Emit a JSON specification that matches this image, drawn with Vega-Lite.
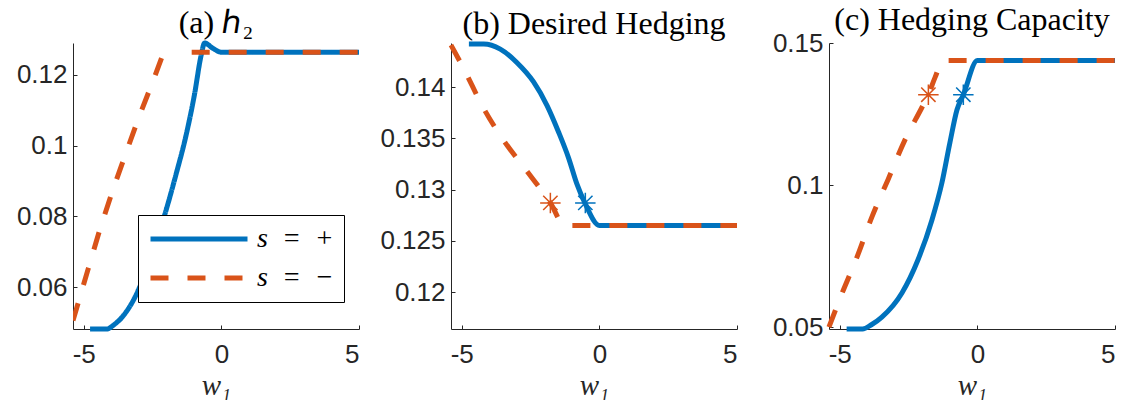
{
  "$schema": "https://vega.github.io/schema/vega-lite/v6.json",
  "background": "white",
  "padding": {"left": 16, "top": 4, "right": 5, "bottom": 0},
  "bounds": "flush",
  "spacing": 92,
  "config": {
    "view": {"stroke": null},
    "axis": {
      "grid": false,
      "domainColor": "#262626",
      "domainWidth": 1,
      "tickColor": "#262626",
      "tickSize": -4,
      "labelColor": "#262626",
      "labelFont": "Liberation Sans",
      "labelFontSize": 26,
      "titleFont": "Liberation Serif",
      "titleFontStyle": "italic",
      "titleFontWeight": "normal",
      "titleFontSize": 29,
      "titleColor": "#262626"
    },
    "axisX": {"labelPadding": 16, "titlePadding": 4},
    "axisY": {"labelPadding": 10},
    "title": {"font": "Liberation Serif", "fontSize": 32, "fontWeight": "normal", "color": "#000000", "offset": -7}
  },
  "datasets": {
    "a": [
      {"s": "s\u2002=\u2002+", "x": -4.77, "y": 0.0482},
      {"s": "s\u2002=\u2002+", "x": -4.16, "y": 0.0482},
      {"s": "s\u2002=\u2002+", "x": -3.9, "y": 0.0494},
      {"s": "s\u2002=\u2002+", "x": -3.59, "y": 0.0517},
      {"s": "s\u2002=\u2002+", "x": -3.1, "y": 0.0578},
      {"s": "s\u2002=\u2002+", "x": -2.62, "y": 0.0672},
      {"s": "s\u2002=\u2002+", "x": -2.13, "y": 0.0786},
      {"s": "s\u2002=\u2002+", "x": -1.65, "y": 0.0918},
      {"s": "s\u2002=\u2002+", "x": -1.28, "y": 0.103},
      {"s": "s\u2002=\u2002+", "x": -0.98, "y": 0.1143},
      {"s": "s\u2002=\u2002+", "x": -0.73, "y": 0.1257},
      {"s": "s\u2002=\u2002+", "x": -0.61, "y": 0.129},
      {"s": "s\u2002=\u2002+", "x": -0.31, "y": 0.1275},
      {"s": "s\u2002=\u2002+", "x": 0, "y": 0.1264},
      {"s": "s\u2002=\u2002+", "x": 5, "y": 0.1264},
      {"s": "s\u2002=\u2002\u2212", "x": -5.39, "y": 0.0506},
      {"s": "s\u2002=\u2002\u2212", "x": -4.83, "y": 0.0654},
      {"s": "s\u2002=\u2002\u2212", "x": -4.4, "y": 0.0767},
      {"s": "s\u2002=\u2002\u2212", "x": -3.92, "y": 0.088},
      {"s": "s\u2002=\u2002\u2212", "x": -3.49, "y": 0.0974},
      {"s": "s\u2002=\u2002\u2212", "x": -3.0, "y": 0.108},
      {"s": "s\u2002=\u2002\u2212", "x": -2.52, "y": 0.1175},
      {"s": "s\u2002=\u2002\u2212", "x": -2.16, "y": 0.125},
      {"s": "s\u2002=\u2002\u2212", "x": -1.86, "y": 0.1297},
      {"s": "s\u2002=\u2002\u2212", "x": -1.55, "y": 0.134},
      {"s": "s\u2002=\u2002\u2212", "x": -1.29, "y": 0.137},
      {"s": "s\u2002=\u2002\u2212", "x": -1.28, "y": 0.1264},
      {"s": "s\u2002=\u2002\u2212", "x": 5, "y": 0.1264}
    ],
    "b": [
      {"s": "plus", "x": -4.74, "y": 0.1442},
      {"s": "plus", "x": -4.2, "y": 0.1442},
      {"s": "plus", "x": -3.6, "y": 0.1437},
      {"s": "plus", "x": -3.0, "y": 0.1424},
      {"s": "plus", "x": -2.39, "y": 0.1405},
      {"s": "plus", "x": -1.9, "y": 0.1382},
      {"s": "plus", "x": -1.48, "y": 0.1356},
      {"s": "plus", "x": -1.12, "y": 0.1331},
      {"s": "plus", "x": -0.81, "y": 0.1305},
      {"s": "plus", "x": -0.51, "y": 0.1286},
      {"s": "plus", "x": 0, "y": 0.1265},
      {"s": "plus", "x": 5, "y": 0.1265},
      {"s": "minus", "x": -5.39, "y": 0.1441},
      {"s": "minus", "x": -4.93, "y": 0.1418},
      {"s": "minus", "x": -4.2, "y": 0.1379},
      {"s": "minus", "x": -3.48, "y": 0.1348},
      {"s": "minus", "x": -2.63, "y": 0.1318},
      {"s": "minus", "x": -1.78, "y": 0.1287},
      {"s": "minus", "x": -1.26, "y": 0.1265},
      {"s": "minus", "x": 5, "y": 0.1265}
    ],
    "c": [
      {"s": "plus", "x": -4.75, "y": 0.0493},
      {"s": "plus", "x": -4.17, "y": 0.0493},
      {"s": "plus", "x": -3.85, "y": 0.0508},
      {"s": "plus", "x": -3.47, "y": 0.0535},
      {"s": "plus", "x": -2.74, "y": 0.062},
      {"s": "plus", "x": -2.16, "y": 0.0736},
      {"s": "plus", "x": -1.65, "y": 0.0877},
      {"s": "plus", "x": -1.29, "y": 0.1007},
      {"s": "plus", "x": -1.0, "y": 0.1148},
      {"s": "plus", "x": -0.74, "y": 0.1265},
      {"s": "plus", "x": -0.51, "y": 0.1318},
      {"s": "plus", "x": 0, "y": 0.1438},
      {"s": "plus", "x": 5, "y": 0.1438},
      {"s": "minus", "x": -5.39, "y": 0.05},
      {"s": "minus", "x": -4.97, "y": 0.0606},
      {"s": "minus", "x": -4.37, "y": 0.0747},
      {"s": "minus", "x": -3.83, "y": 0.0888},
      {"s": "minus", "x": -3.25, "y": 0.1018},
      {"s": "minus", "x": -2.63, "y": 0.1159},
      {"s": "minus", "x": -2.02, "y": 0.1272},
      {"s": "minus", "x": -1.78, "y": 0.1318},
      {"s": "minus", "x": -1.54, "y": 0.1378},
      {"s": "minus", "x": -1.25, "y": 0.1438},
      {"s": "minus", "x": 5, "y": 0.1438}
    ],
    "starsb": [
      {"s": "plus", "x": -0.51, "y": 0.1287},
      {"s": "minus", "x": -1.78, "y": 0.1287}
    ],
    "starsc": [
      {"s": "plus", "x": -0.51, "y": 0.1318},
      {"s": "minus", "x": -1.78, "y": 0.1318}
    ]
  },
  "hconcat": [
    {
      "width": 286,
      "height": 286,
      "title": {"text": "(a) ℎ₂"},
      "encoding": {
        "x": {"field": "x", "type": "quantitative", "scale": {"domain": [-5.39, 5], "nice": false, "zero": false}, "axis": {"values": [-5, 0, 5], "labelExpr": "'' + datum.value", "title": "w₁"}},
        "y": {"field": "y", "type": "quantitative", "scale": {"domain": [0.0482, 0.129], "nice": false, "zero": false}, "axis": {"values": [0.06, 0.08, 0.1, 0.12], "labelExpr": "'' + datum.value", "title": null}},
        "color": {"field": "s", "type": "nominal", "scale": {"domain": ["s\u2002=\u2002+", "s\u2002=\u2002\u2212"], "range": ["#0072BD", "#D95319"]},
          "legend": {"orient": "none", "legendX": 65, "legendY": 172, "title": null, "padding": 10, "strokeColor": "#000000", "fillColor": "#ffffff", "symbolType": "stroke", "symbolSize": 9409, "symbolStrokeWidth": 5, "clipHeight": 28, "rowPadding": 11, "labelFont": "Liberation Serif", "labelFontSize": 28, "labelFontStyle": "italic", "labelColor": "#000000", "labelOffset": 7, "cornerRadius": 0}},
        "strokeDash": {"field": "s", "type": "nominal", "scale": {"domain": ["s\u2002=\u2002+", "s\u2002=\u2002\u2212"], "range": [[1, 0], [18, 19]]},
          "legend": {"orient": "none", "legendX": 65, "legendY": 172, "title": null, "padding": 10, "strokeColor": "#000000", "fillColor": "#ffffff", "symbolType": "stroke", "symbolSize": 9409, "symbolStrokeWidth": 5, "clipHeight": 28, "rowPadding": 11, "labelFont": "Liberation Serif", "labelFontSize": 28, "labelFontStyle": "italic", "labelColor": "#000000", "labelOffset": 7, "cornerRadius": 0}}
      },
      "layer": [
        {"data": {"name": "a"}, "transform": [{"filter": "datum.s == 's\u2002=\u2002+'"}], "mark": {"type": "line", "strokeWidth": 5, "clip": false, "interpolate": "monotone"}},
        {"data": {"name": "a"}, "transform": [{"filter": "datum.s != 's\u2002=\u2002+'"}], "mark": {"type": "line", "strokeWidth": 5, "clip": true}}
      ]
    },
    {
      "width": 286,
      "height": 286,
      "title": {"text": "(b) Desired Hedging"},
      "encoding": {
        "x": {"field": "x", "type": "quantitative", "scale": {"domain": [-5.39, 5], "nice": false, "zero": false}, "axis": {"values": [-5, 0, 5], "labelExpr": "'' + datum.value", "title": "w₁"}},
        "y": {"field": "y", "type": "quantitative", "scale": {"domain": [0.1164, 0.1443], "nice": false, "zero": false}, "axis": {"values": [0.12, 0.125, 0.13, 0.135, 0.14], "labelExpr": "'' + datum.value", "title": null}}
      },
      "layer": [
        {"data": {"name": "b"}, "transform": [{"filter": "datum.s == 'plus'"}], "mark": {"type": "line", "strokeWidth": 5, "color": "#0072BD", "clip": false, "interpolate": "monotone"}},
        {"data": {"name": "b"}, "transform": [{"filter": "datum.s == 'minus'"}], "mark": {"type": "line", "strokeWidth": 5, "color": "#D95319", "strokeDash": [18, 19], "clip": false, "interpolate": "monotone"}},
        {"data": {"name": "starsb"}, "transform": [{"filter": "datum.s == 'plus'"}], "mark": {"type": "point", "shape": "M-1,0L1,0M0,-1L0,1M-0.7,-0.7L0.7,0.7M-0.7,0.7L0.7,-0.7", "filled": false, "size": 420, "strokeWidth": 1.5, "color": "#0072BD", "opacity": 1}},
        {"data": {"name": "starsb"}, "transform": [{"filter": "datum.s == 'minus'"}], "mark": {"type": "point", "shape": "M-1,0L1,0M0,-1L0,1M-0.7,-0.7L0.7,0.7M-0.7,0.7L0.7,-0.7", "filled": false, "size": 420, "strokeWidth": 1.5, "color": "#D95319", "opacity": 1}}
      ]
    },
    {
      "width": 286,
      "height": 286,
      "title": {"text": "(c) Hedging Capacity"},
      "encoding": {
        "x": {"field": "x", "type": "quantitative", "scale": {"domain": [-5.39, 5], "nice": false, "zero": false}, "axis": {"values": [-5, 0, 5], "labelExpr": "'' + datum.value", "title": "w₁"}},
        "y": {"field": "y", "type": "quantitative", "scale": {"domain": [0.0493, 0.15], "nice": false, "zero": false}, "axis": {"values": [0.05, 0.1, 0.15], "labelExpr": "'' + datum.value", "title": null}}
      },
      "layer": [
        {"data": {"name": "c"}, "transform": [{"filter": "datum.s == 'plus'"}], "mark": {"type": "line", "strokeWidth": 5, "color": "#0072BD", "clip": false, "interpolate": "monotone"}},
        {"data": {"name": "c"}, "transform": [{"filter": "datum.s == 'minus'"}], "mark": {"type": "line", "strokeWidth": 5, "color": "#D95319", "strokeDash": [18, 19], "clip": false, "interpolate": "monotone"}},
        {"data": {"name": "starsc"}, "transform": [{"filter": "datum.s == 'plus'"}], "mark": {"type": "point", "shape": "M-1,0L1,0M0,-1L0,1M-0.7,-0.7L0.7,0.7M-0.7,0.7L0.7,-0.7", "filled": false, "size": 420, "strokeWidth": 1.5, "color": "#0072BD", "opacity": 1}},
        {"data": {"name": "starsc"}, "transform": [{"filter": "datum.s == 'minus'"}], "mark": {"type": "point", "shape": "M-1,0L1,0M0,-1L0,1M-0.7,-0.7L0.7,0.7M-0.7,0.7L0.7,-0.7", "filled": false, "size": 420, "strokeWidth": 1.5, "color": "#D95319", "opacity": 1}}
      ]
    }
  ]
}
